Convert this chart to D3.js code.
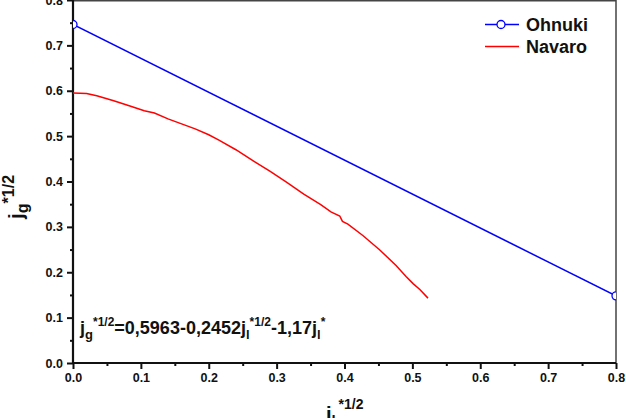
<!DOCTYPE html>
<html>
<head>
<meta charset="utf-8">
<script src="https://cdn.jsdelivr.net/npm/d3@7"></script>
<style>
  body { margin: 0; background: #fff; }
  svg { display: block; font-family: "Liberation Sans", Arial, sans-serif; font-weight: bold; }
</style>
</head>
<body>
<svg class="chart" width="626" height="418"></svg>
<script>

// tick values
const majorTicks = [0, 0.1, 0.2, 0.3, 0.4, 0.5, 0.6, 0.7, 0.8];
const minorTicks = [0.05, 0.15, 0.25, 0.35, 0.45, 0.55, 0.65, 0.75];

// Ohnuki series (straight line, two points)
const ohnukiX = [0, 0.8];
const ohnukiY = [0.746, 0.148];

// Navaro series
const navaroX = [0, 0.02, 0.035, 0.06, 0.085, 0.105, 0.12, 0.14, 0.16, 0.18, 0.2, 0.215, 0.24, 0.265,
                 0.29, 0.315, 0.34, 0.365, 0.38, 0.393, 0.397, 0.405, 0.427, 0.452, 0.476, 0.491,
                 0.501, 0.511, 0.523];
const navaroY = [0.595, 0.594, 0.589, 0.578, 0.566, 0.556, 0.551, 0.538, 0.527, 0.516, 0.503, 0.491, 0.470, 0.446,
                 0.423, 0.398, 0.372, 0.349, 0.333, 0.324, 0.312, 0.306, 0.281, 0.249, 0.215, 0.190,
                 0.175, 0.162, 0.143];

const seriesNames = ["Ohnuki", "Navaro"];
const seriesCols = ["#0000ff", "#ff0000"];

const plotL = 73, plotR = 616, plotT = 0, plotB = 363;

const x = d3.scaleLinear().domain([0, 0.8]).range([plotL, plotR]);
const y = d3.scaleLinear().domain([0, 0.8]).range([plotB, plotT]);

const svg = d3.select('svg.chart');

svg.append('clipPath').attr('id', 'plotClip')
  .append('rect')
  .attr('x', plotL).attr('y', plotT)
  .attr('width', plotR - plotL).attr('height', plotB - plotT);

// frame top / right
svg.append('path')
  .attr('d', `M${plotL},${plotT + 0.75}H${plotR}V${plotB}`)
  .style('fill', 'none')
  .style('stroke', '#444')
  .style('stroke-width', 1.5);

// axes
const fmt = d3.format('.1f');

function styleAxis(g){
  g.select('.domain').remove();
  g.selectAll('line').style('stroke', '#111').style('stroke-width', 2);
  g.selectAll('text')
    .style('font-size', '12.5px')
    .style('font-weight', 'bold')
    .style('font-family', '"Liberation Sans", Arial, sans-serif')
    .style('fill', '#111');
}

svg.append('g')
  .attr('transform', `translate(0,${plotB})`)
  .call(d3.axisBottom(x).tickValues(majorTicks).tickSize(6).tickPadding(4).tickFormat(fmt))
  .call(styleAxis);

svg.append('g')
  .attr('transform', `translate(0,${plotB})`)
  .call(d3.axisBottom(x).tickValues(minorTicks).tickSize(3).tickFormat(''))
  .call(styleAxis);

svg.append('g')
  .attr('transform', `translate(${plotL},0)`)
  .call(d3.axisLeft(y).tickValues(majorTicks).tickSize(6).tickPadding(4).tickFormat(fmt))
  .call(styleAxis);

svg.append('g')
  .attr('transform', `translate(${plotL},0)`)
  .call(d3.axisLeft(y).tickValues(minorTicks).tickSize(3).tickFormat(''))
  .call(styleAxis);

// left and bottom axis lines
svg.append('path')
  .attr('d', `M${plotL},${plotT}V${plotB}H${plotR}`)
  .style('fill', 'none')
  .style('stroke', '#111')
  .style('stroke-width', 2.2);

// lines
const line = d3.line().x(d => x(d[0])).y(d => y(d[1]));
const plotGrp = svg.append('g').attr('clip-path', 'url(#plotClip)');

const ohnukiData = ohnukiX.map((d, i) => [d, ohnukiY[i]]);
const navaroData = navaroX.map((d, i) => [d, navaroY[i]]);

plotGrp.append('path')
  .datum(ohnukiData)
  .attr('d', line)
  .style('fill', 'none')
  .style('stroke', seriesCols[0])
  .style('stroke-width', 1.5);

plotGrp.append('path')
  .datum(navaroData)
  .attr('d', line)
  .style('fill', 'none')
  .style('stroke', seriesCols[1])
  .style('stroke-width', 1.5);

plotGrp.selectAll('circle.marker')
  .data(ohnukiData)
  .enter()
  .append('circle')
  .attr('class', 'marker')
  .attr('cx', d => x(d[0]))
  .attr('cy', d => y(d[1]))
  .attr('r', 4)
  .style('fill', '#fff')
  .style('stroke', seriesCols[0])
  .style('stroke-width', 1.3);

// legend
const legend = svg.append('g').attr('class', 'legend');
seriesNames.forEach((name, i) => {
  const ly = 24.5 + i * 22;
  legend.append('line')
    .attr('x1', 485).attr('x2', 519)
    .attr('y1', ly).attr('y2', ly)
    .style('stroke', seriesCols[i])
    .style('stroke-width', 1.5);
  if (i === 0){
    legend.append('circle')
      .attr('cx', 501).attr('cy', ly).attr('r', 4)
      .style('fill', '#fff')
      .style('stroke', seriesCols[i])
      .style('stroke-width', 1.3);
  }
  legend.append('text')
    .attr('x', 526).attr('y', ly + 6)
    .style('font-size', '18px')
    .style('fill', '#111')
    .text(name);
});

// rich text helper: parts of [text, size, dy]
function richText(sel, parts){
  parts.forEach(p => {
    sel.append('tspan')
      .attr('dy', p[2])
      .style('font-size', p[1] + 'px')
      .text(p[0]);
  });
}

// y axis title
const yTitle = svg.append('text')
  .attr('transform', 'translate(23,219) rotate(-90)')
  .style('fill', '#111');
richText(yTitle, [['j', 21, 0], ['g', 16, 5], ['*1/2', 16, -14]]);

// x axis title
const xTitle = svg.append('text')
  .attr('x', 326).attr('y', 421)
  .style('fill', '#111');
richText(xTitle, [['j', 20, 0], ['l', 15, 5], ['\u2009*1/2', 14, -17]]);

// equation
const eq = svg.append('text')
  .attr('x', 80).attr('y', 334)
  .style('fill', '#111');
richText(eq, [
  ['j', 18, 0], ['g', 13, 5], ['*1/2', 12, -13], ['=0,5963-0,2452', 18, 8],
  ['j', 18, 0], ['l', 13, 5], ['*1/2', 12, -13], ['-1,17', 18, 8],
  ['j', 18, 0], ['l', 13, 5], ['*', 12, -13]
]);

</script>
</body>
</html>
